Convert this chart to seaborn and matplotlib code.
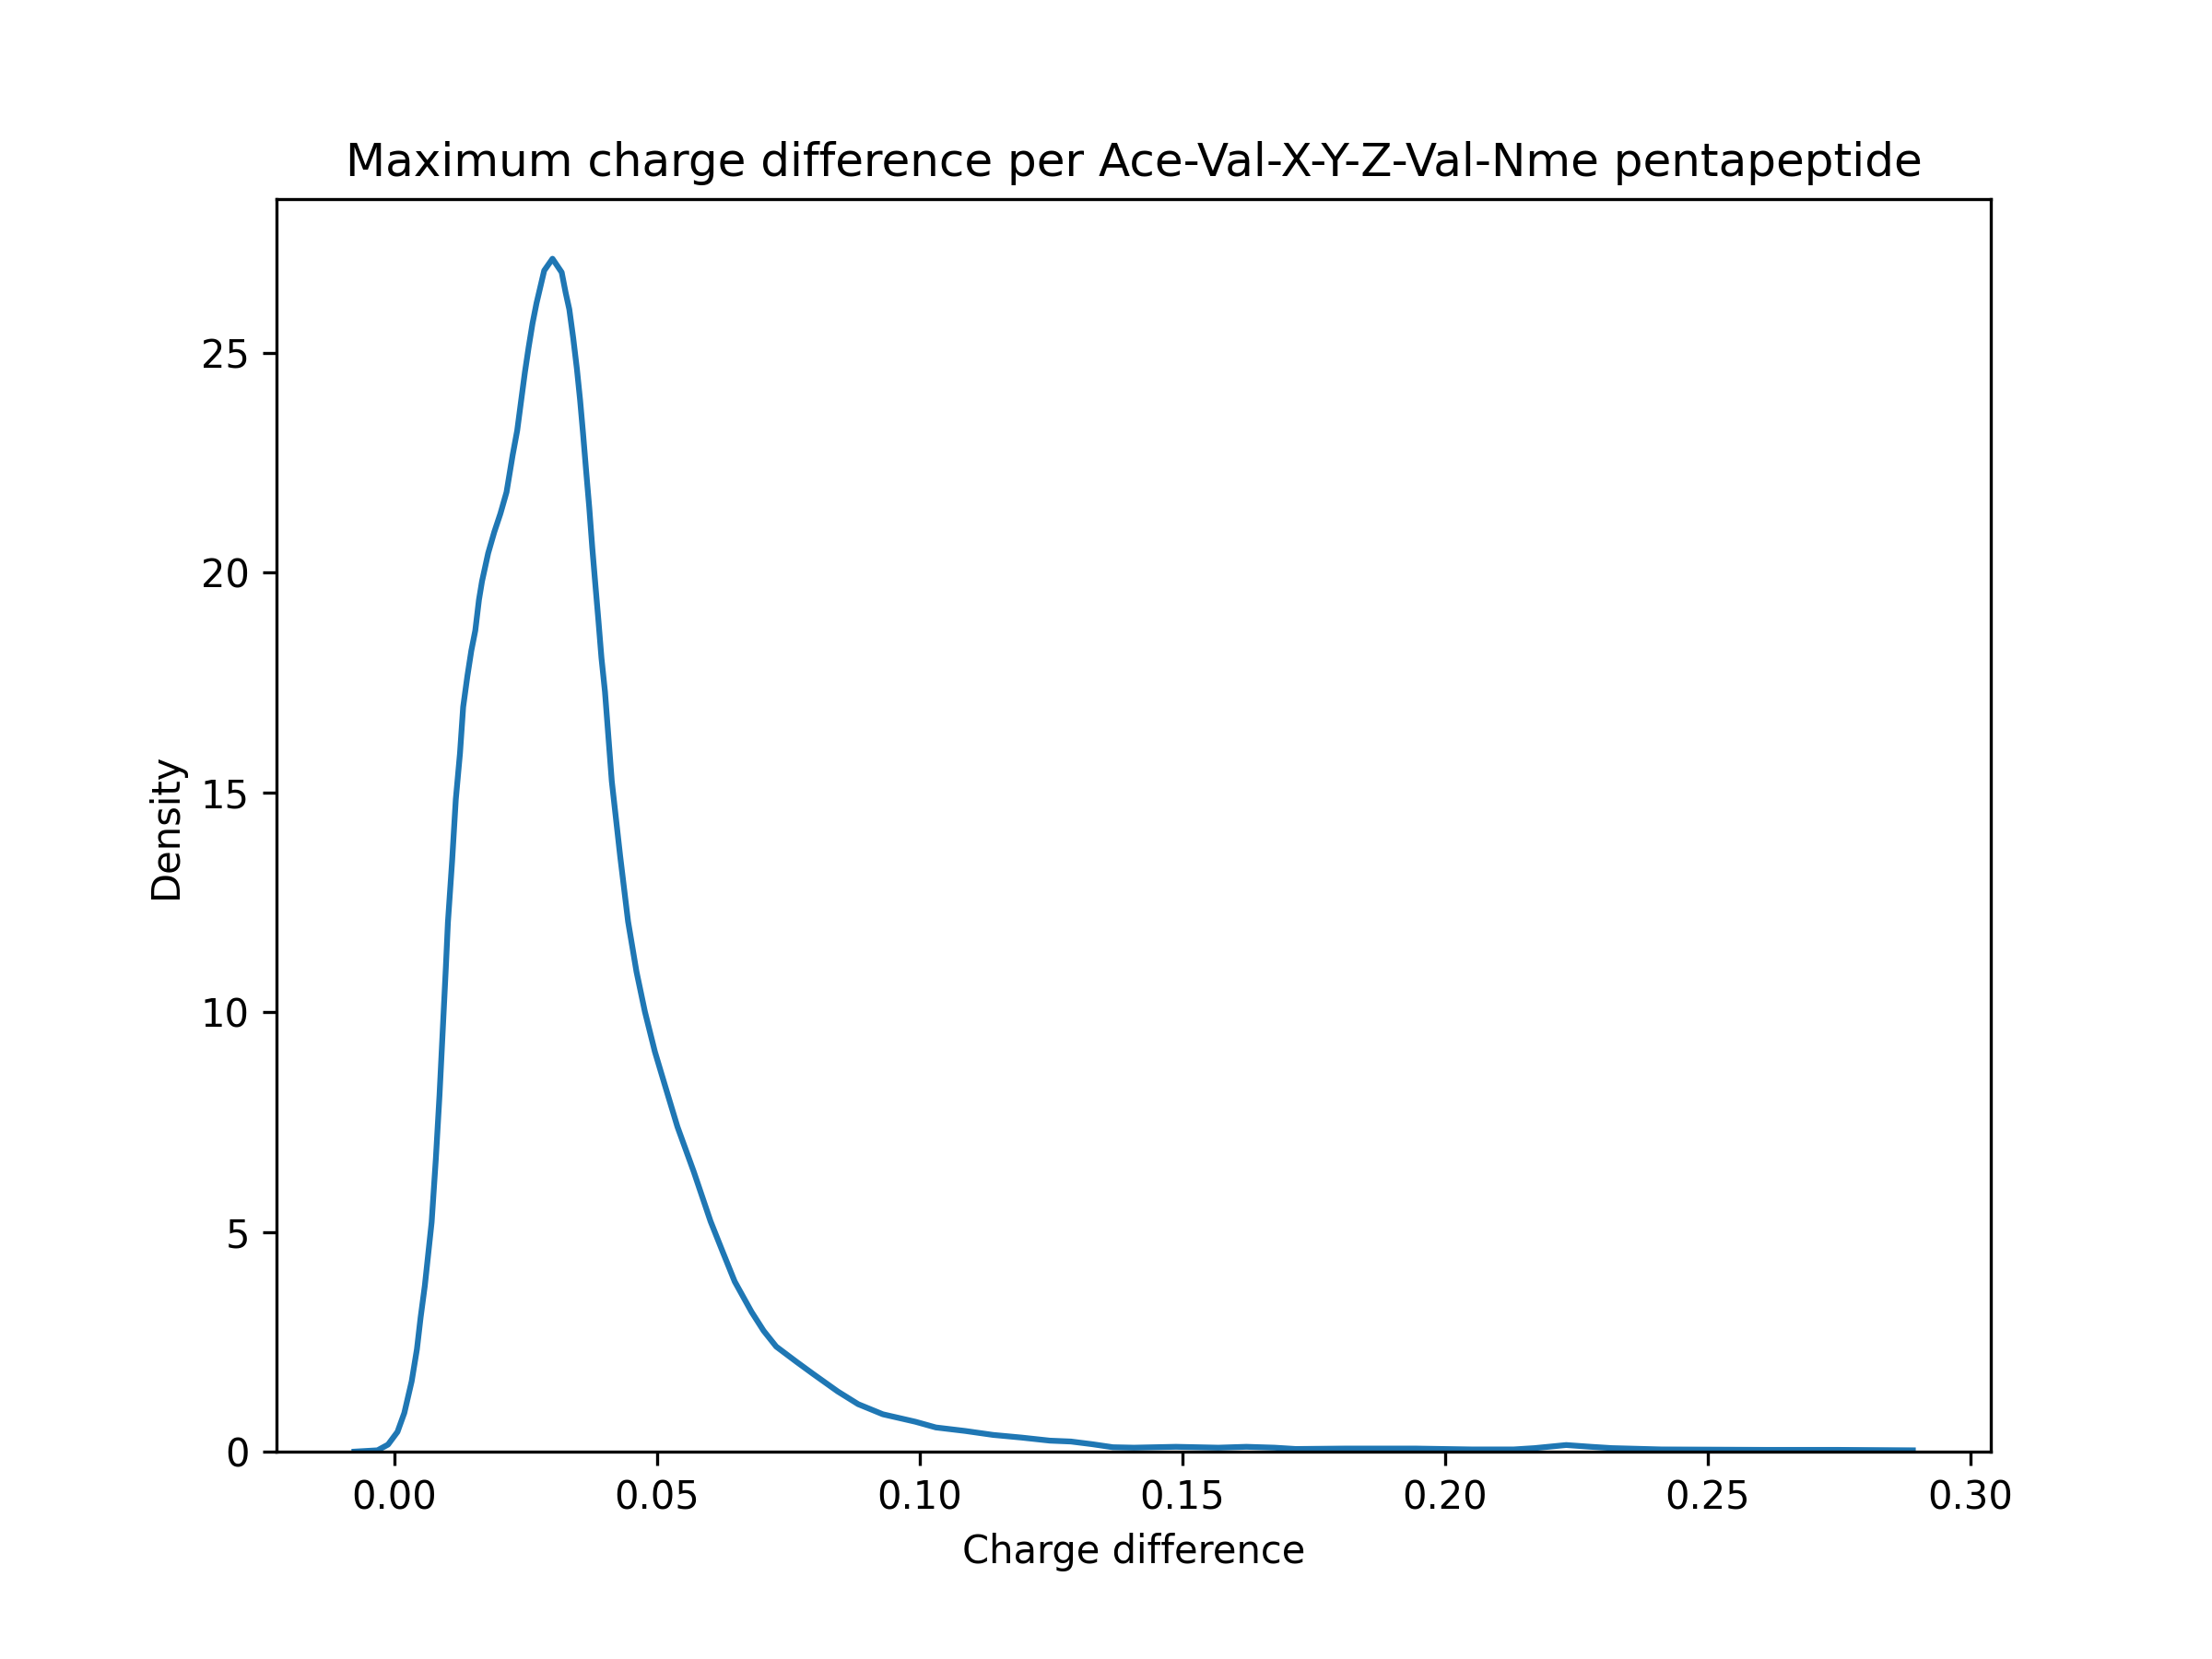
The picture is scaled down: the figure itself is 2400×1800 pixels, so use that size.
import matplotlib

matplotlib.use("Agg")
import matplotlib.pyplot as plt
import pandas as pd
import seaborn as sns

# Density curve
charge_diff = [
    -0.0076, -0.0032, -0.0012, 0.0006, 0.0019, 0.0033, 0.0043, 0.0050, 0.0058,
    0.0071, 0.0079, 0.0086, 0.0092, 0.0098, 0.0102, 0.0110, 0.0117, 0.0125,
    0.0131, 0.0139, 0.01465, 0.01541, 0.01611, 0.01669, 0.01786, 0.01902,
    0.02019, 0.02136, 0.02252, 0.02339, 0.02416, 0.02486, 0.02556, 0.02631,
    0.02707, 0.02853, 0.03011, 0.03186, 0.03261, 0.03331, 0.03406, 0.03476,
    0.03536, 0.03593, 0.03651, 0.03711, 0.03768, 0.03826, 0.03886, 0.03943,
    0.0401, 0.0414, 0.0430, 0.0445, 0.0461, 0.0477, 0.0496, 0.0516, 0.0539,
    0.0570, 0.0602, 0.0625, 0.0648, 0.0680, 0.0703, 0.0727, 0.0766, 0.0797,
    0.0844, 0.0883, 0.0930, 0.0992, 0.1031, 0.1087, 0.1140, 0.1194, 0.1248,
    0.1288, 0.1328, 0.1368, 0.1408, 0.1488, 0.1569, 0.1622, 0.1676, 0.1716,
    0.1810, 0.1944, 0.2051, 0.2131, 0.2171, 0.2231, 0.2278, 0.2318, 0.2412,
    0.2613, 0.2747, 0.2891,
]
density = [
    0.0, 0.03, 0.16, 0.45, 0.88, 1.60, 2.33, 3.05, 3.77,
    5.22, 6.66, 8.11, 9.55, 11.00, 12.04, 13.44, 14.84, 15.89,
    16.94, 17.64, 18.22, 18.68, 19.38, 19.80, 20.44, 20.92,
    21.34, 21.83, 22.67, 23.23, 23.93, 24.56, 25.12, 25.67,
    26.13, 26.87, 27.14, 26.83, 26.37, 25.99, 25.33, 24.63,
    23.93, 23.16, 22.32, 21.48, 20.57, 19.74, 18.90, 18.06,
    17.29, 15.25, 13.54, 12.06, 10.92, 10.01, 9.10, 8.30, 7.39,
    6.37, 5.24, 4.55, 3.87, 3.18, 2.75, 2.39, 2.04, 1.77,
    1.37, 1.08, 0.85, 0.68, 0.55, 0.47, 0.38, 0.32, 0.25,
    0.23, 0.17, 0.10, 0.09, 0.11, 0.09, 0.11, 0.09, 0.06,
    0.07, 0.07, 0.05, 0.05, 0.08, 0.15, 0.11, 0.08, 0.05,
    0.04, 0.04, 0.03,
]

curve = pd.DataFrame({"Charge difference": charge_diff, "Density": density})

fig, ax = plt.subplots(figsize=(8, 6), dpi=300)
fig.subplots_adjust(bottom=0.125)
sns.lineplot(data=curve, x="Charge difference", y="Density", ax=ax, linewidth=1.5)
ax.set_ylim(0, max(density) * 1.05)
ax.set_title("Maximum charge difference per Ace-Val-X-Y-Z-Val-Nme pentapeptide")
fig.savefig("out.png", dpi=300)
